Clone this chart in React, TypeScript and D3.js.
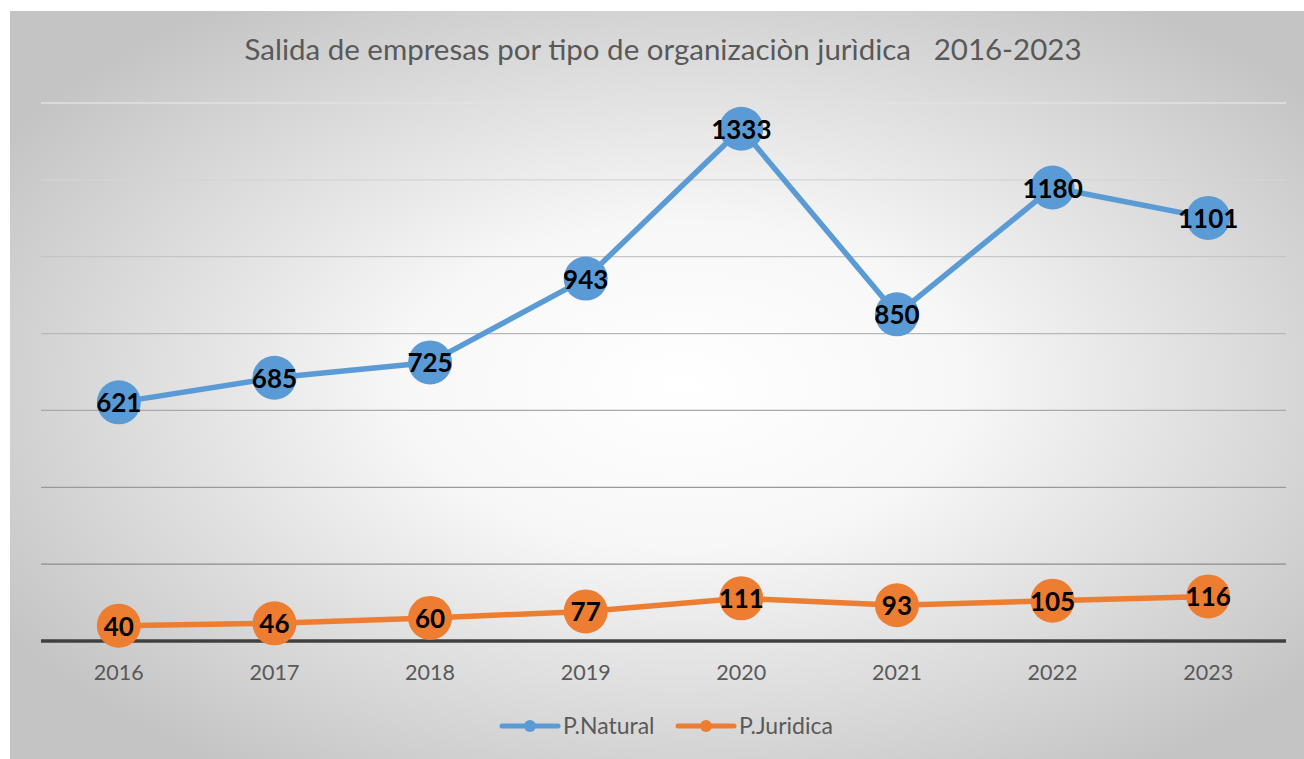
import { useEffect, useRef } from 'react';
import * as d3 from 'd3';

const years = ['2016', '2017', '2018', '2019', '2020', '2021', '2022', '2023'];
const natural = [621, 685, 725, 943, 1333, 850, 1180, 1101];
const juridica = [40, 46, 60, 77, 111, 93, 105, 116];
const yTicks = [0, 200, 400, 600, 800, 1000, 1200, 1400];
const seriesNames = ['P.Natural', 'P.Juridica'];
const seriesColors = ['#5B9BD5', '#ED7D31'];
const title = 'Salida de empresas por tipo de organizaciòn jurìdica   2016-2023';

export default function App() {
  const svgRef = useRef<SVGSVGElement>(null);

  useEffect(() => {
    const width = 1304;
    const height = 759;
    const margin = { top: 103, right: 18, bottom: 118, left: 41 };
    const font = 'Lato, "Open Sans", sans-serif';

    const svg = d3.select(svgRef.current);
    svg.selectAll('*').remove();
    svg.attr('viewBox', `0 0 ${width} ${height}`);

    const defs = svg.append('defs');
    const grad = defs.append('radialGradient')
      .attr('id', 'bg')
      .attr('cx', '52%').attr('cy', '50%').attr('r', '62%');
    grad.append('stop').attr('offset', '0%').attr('stop-color', '#ffffff');
    grad.append('stop').attr('offset', '35%').attr('stop-color', '#f7f7f7');
    grad.append('stop').attr('offset', '100%').attr('stop-color', '#c4c4c4');

    svg.append('rect')
      .attr('x', 10).attr('y', 11)
      .attr('width', width - 10).attr('height', height - 11)
      .attr('fill', 'url(#bg)');

    const x = d3.scalePoint<string>()
      .domain(years)
      .range([margin.left, width - margin.right])
      .padding(0.5);

    const y = d3.scaleLinear()
      .domain([0, 1400])
      .range([height - margin.bottom, margin.top]);

    // gridlines: lighter toward the top like the original
    const gridColor = d3.scaleLinear<string>()
      .domain([1400, 200])
      .range(['#e2e2e2', '#8c8c8c']);

    svg.append('g')
      .selectAll('line')
      .data(yTicks.filter((t) => t > 0))
      .join('line')
      .attr('x1', margin.left)
      .attr('x2', width - margin.right)
      .attr('y1', (d) => y(d))
      .attr('y2', (d) => y(d))
      .attr('stroke', (d) => gridColor(d))
      .attr('stroke-width', 1.3);

    svg.append('line')
      .attr('x1', margin.left)
      .attr('x2', width - margin.right)
      .attr('y1', y(0))
      .attr('y2', y(0))
      .attr('stroke', '#404040')
      .attr('stroke-width', 3.5);

    svg.append('g')
      .selectAll('text')
      .data(years)
      .join('text')
      .attr('x', (d) => x(d) as number)
      .attr('y', y(0) + 39)
      .attr('text-anchor', 'middle')
      .attr('font-family', font)
      .attr('font-size', 21.5)
      .attr('fill', '#595959')
      .text((d) => d);

    svg.append('text')
      .attr('x', 663)
      .attr('y', 60)
      .attr('text-anchor', 'middle')
      .attr('font-family', font)
      .attr('font-size', 29.5)
      .attr('fill', '#595959')
      .style('white-space', 'pre')
      .text(title);

    const series = [natural, juridica];
    const line = d3.line<number>()
      .x((_, i) => x(years[i]) as number)
      .y((d) => y(d));

    series.forEach((vals, si) => {
      const g = svg.append('g');
      g.append('path')
        .datum(vals)
        .attr('d', line)
        .attr('fill', 'none')
        .attr('stroke', seriesColors[si])
        .attr('stroke-width', 5.5)
        .attr('stroke-linejoin', 'round');
      g.selectAll('circle')
        .data(vals)
        .join('circle')
        .attr('cx', (_, i) => x(years[i]) as number)
        .attr('cy', (d) => y(d))
        .attr('r', 22)
        .attr('fill', seriesColors[si]);
      g.selectAll('text')
        .data(vals)
        .join('text')
        .attr('x', (_, i) => x(years[i]) as number)
        .attr('y', (d) => y(d) + 10)
        .attr('text-anchor', 'middle')
        .attr('font-family', font)
        .attr('font-weight', 'bold')
        .attr('font-size', 26)
        .attr('fill', '#000')
        .text((d) => d);
    });

    // legend
    const legendX = [502, 678];
    seriesNames.forEach((name, i) => {
      const lg = svg.append('g').attr('transform', `translate(${legendX[i]},726)`);
      lg.append('line')
        .attr('x1', 0).attr('x2', 56)
        .attr('y1', 0).attr('y2', 0)
        .attr('stroke', seriesColors[i])
        .attr('stroke-width', 5)
        .attr('stroke-linecap', 'round');
      lg.append('circle').attr('cx', 28).attr('cy', 0).attr('r', 6).attr('fill', seriesColors[i]);
      lg.append('text')
        .attr('x', 61)
        .attr('y', 8)
        .attr('font-family', font)
        .attr('font-size', 23)
        .attr('fill', '#595959')
        .text(name);
    });
  }, []);

  return (
    <div style={{ position: 'absolute', left: 0, top: 0, width: 1304, height: 759, background: '#fff' }}>
      <svg ref={svgRef} width={1304} height={759} style={{ display: 'block' }} />
    </div>
  );
}
